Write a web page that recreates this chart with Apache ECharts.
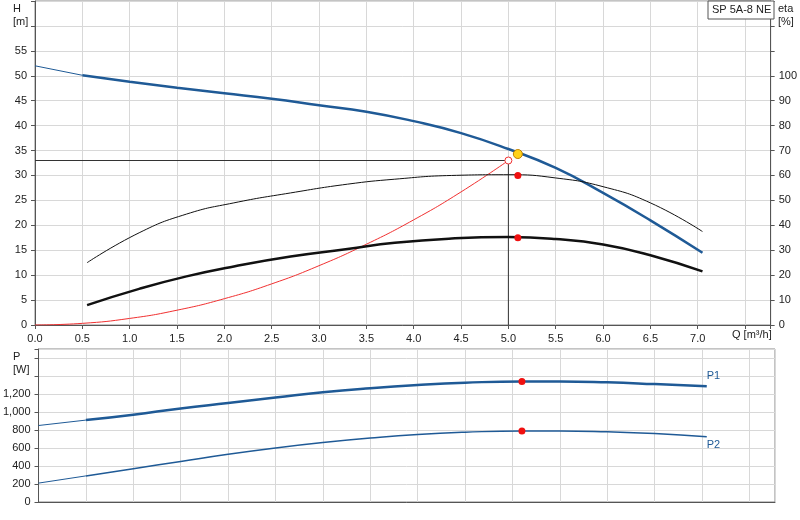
<!DOCTYPE html>
<html><head><meta charset="utf-8">
<script src="https://cdn.jsdelivr.net/npm/echarts@6/dist/echarts.min.js"></script>
<style>body{margin:0;background:#fff}#c{width:800px;height:520px}</style></head>
<body><div id="c"></div>
<script>
const qH = [0.5,1.0,1.5,2.0,2.5,3.0,3.5,4.0,4.5,5.0,5.5,6.0,6.5,7.05];
const hVals = [50.1,48.8,47.6,46.5,45.4,44.1,42.8,40.9,38.5,35.3,31.5,26.5,21.0,14.5];
const hExt = [[0,52],[0.5,50.1]];
const qEta = [0.55,1.1,1.6,2.1,2.7,3.3,3.8,4.4,5.0,5.5,6.0,6.5,7.05];
const etaPump = [25,37,44.5,49,53,56.5,58.5,60,60.3,59,55.5,49,37.5];
const etaTotal = [8,14.5,19.5,23.5,27.5,30.5,33,34.7,35.3,34.5,32.3,28,21.5];
const qSys = [0,0.5,1.0,1.5,2.0,2.5,3.0,3.5,4.0,4.5,5.0];
const hSys = [0,0.33,1.32,2.97,5.28,8.25,11.9,16.2,21.1,26.7,33];
const qP = [0.5,1.0,1.5,2.0,2.5,3.0,3.5,4.0,4.5,5.1,5.5,6.0,6.5,7.05];
const p1 = [910,970,1040,1100,1160,1220,1265,1300,1325,1340,1340,1330,1310,1285];
const p2 = [290,370,450,530,600,660,710,750,775,790,790,780,760,725];
const p1Ext = [[0,850],[0.5,910]];
const p2Ext = [[0,210],[0.5,290]];
const duty = {q:5.1, h:34.3, etaPump:60, etaTotal:35, p1:1340, p2:790};
const sysEnd = {q:5.0, h:33};

const z = (xs, ys) => xs.map((x,i)=>[x,ys[i]]);
const blue = '#1f5a96';
const grid = '#d8d8d8';
const lab = {color:'#222', fontSize:11, fontFamily:'Liberation Sans, Arial'};
const xAx = (gi, show) => ({type:'value', gridIndex:gi, min:0, max:7.77, interval:0.5,
  axisLine:{lineStyle:{color:'#555'}}, axisTick:{show:show,length:4,lineStyle:{color:'#555'}},
  axisLabel:{show:show, ...lab, formatter:v=> v>7.2?'':v.toFixed(1)},
  splitLine:{lineStyle:{color:grid}}});
const red = {color:'#f01010', opacity:1};
const chart = echarts.init(document.getElementById('c'));
chart.setOption({
  animation:false,
  grid:[{left:35,right:25,top:1,height:324,show:true,borderColor:'#888',backgroundColor:'transparent'},
        {left:35,right:25,top:349,height:153,show:true,borderColor:'#888'}],
  xAxis:[xAx(0,true), xAx(1,false)],
  yAxis:[
    {type:'value',gridIndex:0,min:0,max:65,interval:5,axisLine:{show:true,lineStyle:{color:'#555'}},axisTick:{show:true,length:4},
     axisLabel:{...lab,formatter:v=>v>55?'':v},splitLine:{lineStyle:{color:grid}}},
    {type:'value',gridIndex:0,min:0,max:130,interval:10,position:'right',axisLine:{show:true,lineStyle:{color:'#555'}},axisTick:{show:true,length:4},
     axisLabel:{...lab,formatter:v=>v>100?'':v},splitLine:{show:false}},
    {type:'value',gridIndex:1,min:0,max:1700,interval:200,axisLine:{show:true,lineStyle:{color:'#555'}},axisTick:{show:true,length:4},
     axisLabel:{...lab,formatter:v=>v>1200?'':v.toLocaleString('en-US')},splitLine:{lineStyle:{color:grid}}}
  ],
  series:[
    {type:'line',data:hExt,xAxisIndex:0,yAxisIndex:0,symbol:'none',lineStyle:{color:blue,width:1}},
    {type:'line',data:z(qH,hVals),smooth:true,symbol:'none',lineStyle:{color:blue,width:2.5}},
    {type:'line',data:z(qSys,hSys),smooth:true,symbol:'none',lineStyle:{color:'#f03030',width:1}},
    {type:'line',data:[[0,sysEnd.h],[sysEnd.q,sysEnd.h],[sysEnd.q,0]],symbol:'none',lineStyle:{color:'#333',width:1}},
    {type:'scatter',z:5,data:[[sysEnd.q,sysEnd.h]],symbol:'circle',symbolSize:7,itemStyle:{color:'#fff',borderColor:'#f03030',borderWidth:1,opacity:1}},
    {type:'line',data:z(qEta,etaPump),yAxisIndex:1,smooth:true,symbol:'none',lineStyle:{color:'#111',width:1}},
    {type:'line',data:z(qEta,etaTotal),yAxisIndex:1,smooth:true,symbol:'none',lineStyle:{color:'#111',width:2.5}},
    {type:'scatter',z:5,yAxisIndex:1,data:[[duty.q,duty.etaPump],[duty.q,duty.etaTotal]],symbolSize:7,itemStyle:red},
    {type:'scatter',z:6,data:[[duty.q,duty.h]],symbolSize:9,itemStyle:{color:'#ffd21a',borderColor:'#c08000',borderWidth:1,opacity:1}},
    {type:'line',xAxisIndex:1,yAxisIndex:2,data:p1Ext,symbol:'none',lineStyle:{color:blue,width:1}},
    {type:'line',xAxisIndex:1,yAxisIndex:2,data:p2Ext,symbol:'none',lineStyle:{color:blue,width:1}},
    {type:'line',xAxisIndex:1,yAxisIndex:2,data:z(qP,p1),smooth:true,symbol:'none',lineStyle:{color:blue,width:2.5},
     endLabel:{show:true,formatter:'P1',color:blue,fontSize:11,offset:[-8,-10]}},
    {type:'line',xAxisIndex:1,yAxisIndex:2,data:z(qP,p2),smooth:true,symbol:'none',lineStyle:{color:blue,width:1.5},
     endLabel:{show:true,formatter:'P2',color:blue,fontSize:11,offset:[-8,8]}},
    {type:'scatter',z:5,xAxisIndex:1,yAxisIndex:2,data:[[duty.q,duty.p1],[duty.q,duty.p2]],symbolSize:7,itemStyle:red}
  ],
  graphic:[
    {type:'text',left:13,top:2,style:{text:'H\n[m]',fill:'#222',font:'11px Liberation Sans',align:'center',lineHeight:13}},
    {type:'text',left:778,top:2,style:{text:'eta\n[%]',fill:'#222',font:'11px Liberation Sans',lineHeight:13}},
    {type:'text',left:13,top:350,style:{text:'P\n[W]',fill:'#222',font:'11px Liberation Sans',lineHeight:13}},
    {type:'text',left:732,top:329,style:{text:'Q [m³/h]',fill:'#222',font:'11px Liberation Sans'}},
    {type:'rect',z:10,shape:{x:708,y:1,width:66,height:18},style:{fill:'#fff',stroke:'#555'}},
    {type:'text',z:11,left:712,top:4,style:{text:'SP 5A-8 NE',fill:'#222',font:'11px Liberation Sans'}}
  ]
});
</script></body></html>
